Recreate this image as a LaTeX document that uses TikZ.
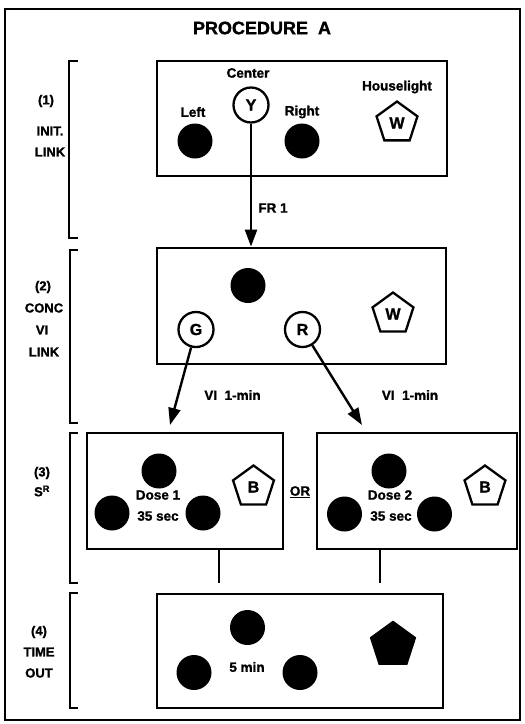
\documentclass[tikz,border=0pt]{standalone}
\usepackage{fontspec}
\setmainfont{Liberation Sans}[BoldFeatures={FakeBold=1.3}]
\usetikzlibrary{shapes.geometric,arrows.meta}
\tikzset{
  outer/.style={draw, line width=2.6pt, inner sep=0pt, minimum width=515pt, minimum height=711pt},
  panel/.style={draw, line width=2.8pt, inner sep=0pt},
  dot/.style={circle, fill=black, inner sep=0pt, minimum size=35pt},
  ring/.style={circle, draw, line width=2.3pt, inner sep=0pt, minimum size=35pt, font=\fontsize{16}{18}\selectfont\bfseries},
  pent/.style={regular polygon, regular polygon sides=5, draw, line width=2.3pt, inner sep=0pt, minimum size=43pt, font=\fontsize{16}{18}\selectfont\bfseries},
  lbl/.style={inner sep=0pt, font=\fontsize{13.5}{15}\selectfont\bfseries},
  side/.style={inner sep=0pt, align=center, font=\fontsize{13}{21}\selectfont\bfseries},
  brk/.style={line width=2.6pt},
  arr/.style={line width=2.4pt, -{Triangle[length=17pt,width=12pt]}},
  conn/.style={line width=2.6pt}
}
\begin{document}
\begin{tikzpicture}[x=1pt,y=-1pt]
\useasboundingbox (0,0) rectangle (525,724);
% outer frame
\node[outer] (frame) at (262.5,364.5) {};
\node[inner sep=0pt, font=\fontsize{18}{20}\selectfont\bfseries] (title) at (262,28) {PROCEDURE\ \ A};

% brackets
\draw[brk] (78,61) -- (69,61) -- (69,238) -- (78,238);
\draw[brk] (78,250) -- (70,250) -- (70,423) -- (78,423);
\draw[brk] (78,433) -- (70,433) -- (70,583) -- (78,583);
\draw[brk] (78,593) -- (70,593) -- (70,708) -- (78,708);

% side labels
\node[side] (s1a) at (46,101) {(1)};
\node[side] (s1b) at (50,131) {INIT.};
\node[side] (s1c) at (50,152) {LINK};
\node[side] (s2a) at (43,287) {(2)};
\node[side] (s2b) at (44,308) {CONC};
\node[side] (s2c) at (42,330) {VI};
\node[side] (s2d) at (44,352) {LINK};
\node[side] (s3a) at (42,473) {(3)};
\node[side] (s3b) at (42,491) {S\textsuperscript{R}};
\node[side] (s4a) at (39,632) {(4)};
\node[side] (s4b) at (39,652) {TIME};
\node[side] (s4c) at (39,673) {OUT};

% panel 1
\node[panel, minimum width=290pt, minimum height=115pt] (b1) at (302,118.5) {};
\node[lbl] (tcenter) at (248,73) {Center};
\node[lbl] (tleft) at (193,112) {Left};
\node[lbl] (tright) at (302,112) {Right};
\node[lbl] (thouse) at (397,87) {Houselight};
\node[ring] (Y) at (251,105) {Y};
\node[dot] (L1) at (195,141) {};
\node[dot] (R1) at (302,141) {};
\node[pent] (W1) at (397,123) {W};

% panel 2
\node[panel, minimum width=289pt, minimum height=116pt] (b2) at (301.5,306) {};
\node[dot] (C2) at (248,285.5) {};
\node[ring] (G) at (196,329.5) {G};
\node[ring] (R) at (302.5,329.5) {R};
\node[pent] (W2) at (393,314) {W};

% arrows
\draw[arr] (Y.south) -- (Y.south |- b2.north);
\node[lbl] (fr) at (273,208) {FR 1};
\coordinate (gend) at (170,425);
\coordinate (rend) at (362,425);
\draw[arr] (G) -- (gend);
\draw[arr] (R) -- (rend);
\node[lbl] (vi1) at (232.5,395) {VI\ \ 1-min};
\node[lbl] (vi2) at (410,395) {VI\ \ 1-min};

% panel 3a
\node[panel, minimum width=196pt, minimum height=116pt] (b3a) at (185,491) {};
\node[dot] (T3a) at (159,471) {};
\node[dot] (L3a) at (112,513) {};
\node[dot] (R3a) at (203,513) {};
\node[lbl] (d1) at (158,495) {Dose 1};
\node[lbl] (t1) at (158,516) {35 sec};
\node[pent] (B1) at (253.5,487) {B};

\node[lbl] (or) at (300,492) {\underline{OR}};

% panel 3b
\node[panel, minimum width=200pt, minimum height=116pt] (b3b) at (417,491) {};
\node[dot] (T3b) at (389,471) {};
\node[dot] (L3b) at (344.5,514) {};
\node[dot] (R3b) at (434.5,514) {};
\node[lbl] (d2) at (390,495) {Dose 2};
\node[lbl] (t2) at (391,516) {35 sec};
\node[pent] (B2) at (485,487) {B};

% connectors
\coordinate (c1) at (219,583);
\coordinate (c2) at (380,583);
\draw[conn] (b3a.south -| c1) -- (c1);
\draw[conn] (b3b.south -| c2) -- (c2);

% panel 4
\node[panel, minimum width=286pt, minimum height=114pt] (b4) at (300,651) {};
\node[dot] (T4) at (247.5,627.5) {};
\node[dot] (L4) at (194,672.5) {};
\node[dot] (R4) at (300,672.5) {};
\node[lbl] (five) at (247,667) {5 min};
\node[pent, fill=black, minimum size=46pt] (P4) at (393,645) {};
\end{tikzpicture}
\end{document}
